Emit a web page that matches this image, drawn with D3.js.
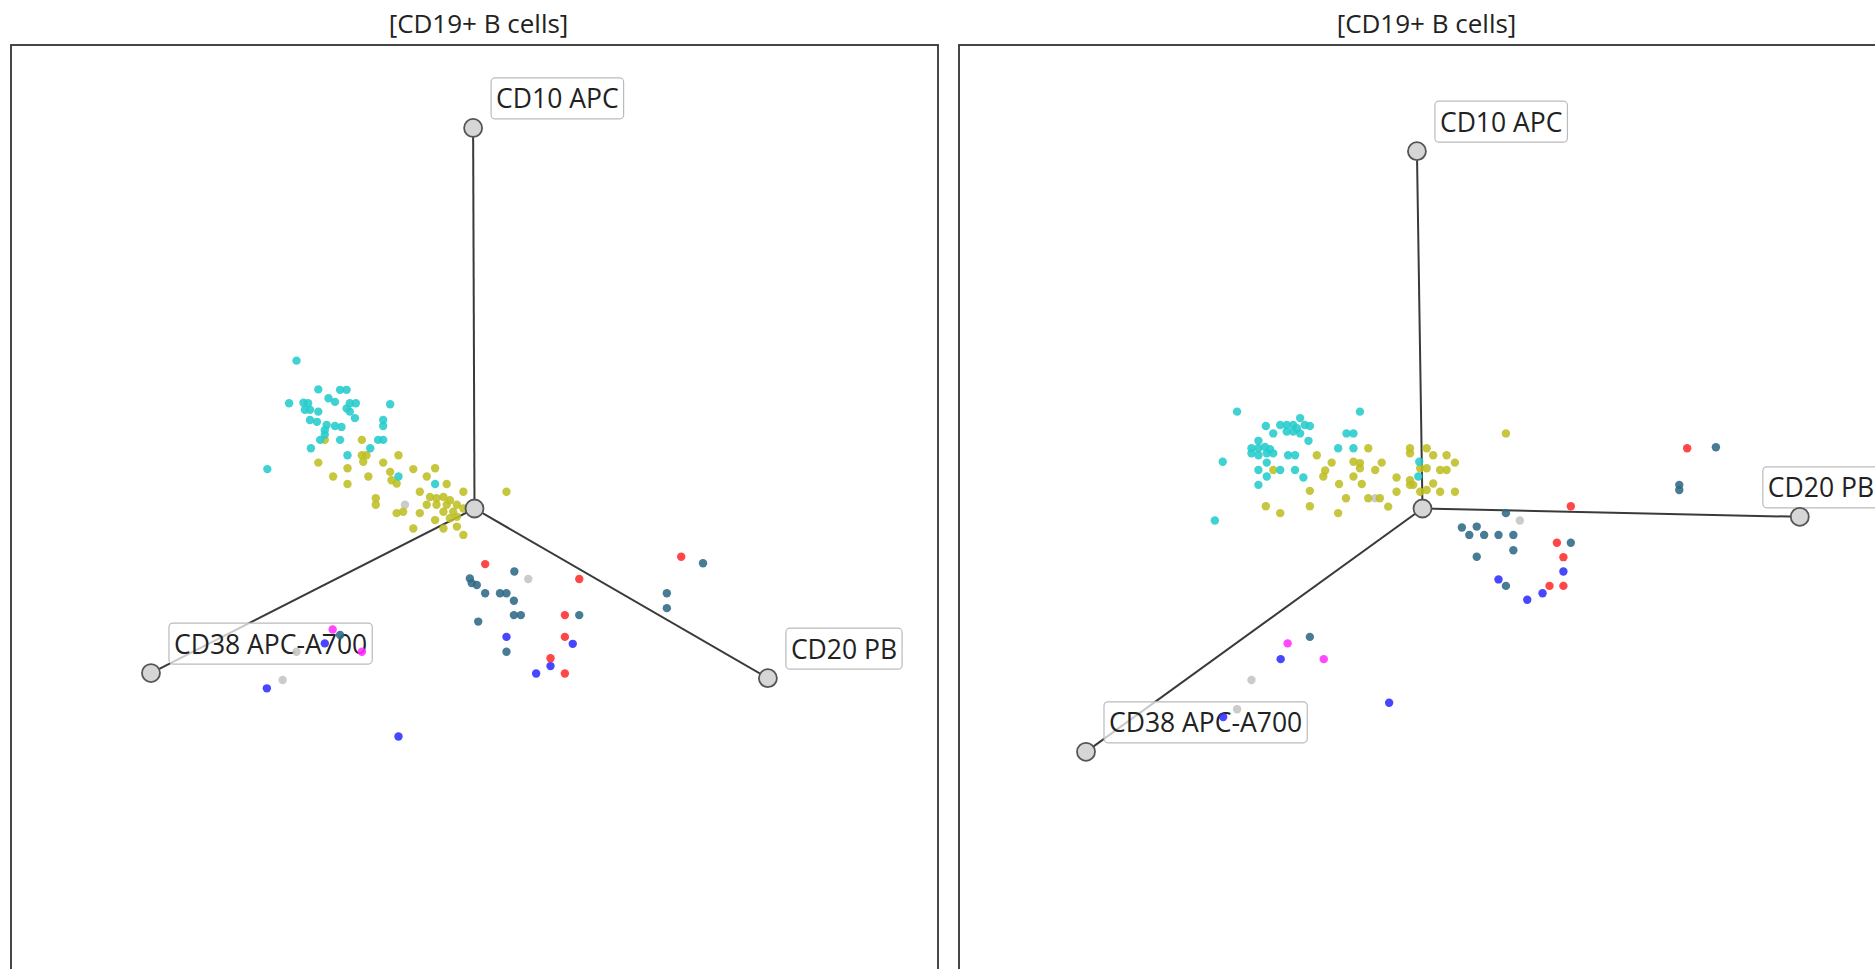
<!DOCTYPE html>
<html>
<head>
<meta charset="utf-8">
<script src="https://cdn.jsdelivr.net/npm/d3@7"></script>
<style>
  html, body { margin: 0; padding: 0; background: #fff; }
  svg { display: block; }
  text { font-family: "Open Sans", "DejaVu Sans", sans-serif; }
</style>
</head>
<body>
<svg id="chart" width="1875" height="969"></svg>
<script>
// Star-coordinate projections of CD19+ B cells onto three marker axes.
// Coordinates are in projection units (-100..100 across each panel).

const panelTitles = ["[CD19+ B cells]", "[CD19+ B cells]"];
const markers = ["CD10 APC", "CD38 APC-A700", "CD20 PB"];

// axis end points per panel, same order as markers
const axesLeft  = [[-0.3, 82.1], [-69.8, -35.5], [63.3, -36.6]];
const axesRight = [[-1.2, 77.1], [-72.6, -52.5], [81.4, -1.8]];

const clusterNames  = ["c1", "c2", "c3", "c4", "c5", "c6", "c7"];
const clusterColors = ["#c4c4c4", "#bebe24", "#26cccc", "#2f6a86", "#ff2e2e", "#2e2eff", "#ff2eff"];

// ---- left panel events ----
const leftC1 = [[-15.0, 0.8], [11.6, -15.2], [-38.4, -30.9], [-41.4, -37.0]];
const leftC2 = [
  [-32.3, 14.8], [-24.3, 14.8], [-24.3, 11.5], [-23.3, 11.5], [-24.0, 10.1], [-16.4, 11.5],
  [-33.7, 9.9], [-19.7, 9.9], [-27.4, 8.7], [-13.2, 8.5], [-8.5, 8.7], [-30.5, 6.9],
  [-22.9, 6.9], [-18.2, 7.9], [-17.9, 6.1], [-16.8, 5.4], [-10.3, 6.9], [-27.4, 5.3],
  [-6.0, 5.3], [-11.8, 3.6], [-2.4, 3.6], [6.9, 3.6], [-21.3, 2.2], [-21.3, 0.8],
  [-9.6, 2.5], [-8.2, 2.2], [-6.7, 2.5], [-5.3, 1.8], [-10.3, 0.8], [-8.2, 0.8],
  [-6.0, 0.8], [-3.8, 0.8], [-16.8, -1.0], [-15.4, -0.7], [-11.8, -1.0], [-6.7, -0.7],
  [-4.6, -0.7], [-2.4, 0.0], [-8.5, -2.5], [-5.3, -2.1], [-3.8, -1.8], [-13.2, -4.3],
  [-6.7, -4.3], [-3.8, -3.9], [-2.4, -5.7]
];
const leftC3 = [
  [-38.4, 31.9], [-33.7, 25.7], [-29.0, 25.6], [-27.6, 25.6], [-31.5, 23.8], [-40.0, 22.7],
  [-36.9, 22.8], [-35.9, 22.7], [-30.1, 23.0], [-26.9, 22.7], [-25.6, 22.7], [-36.6, 21.3],
  [-35.5, 21.3], [-33.7, 20.9], [-27.6, 21.6], [-26.9, 20.9], [-18.2, 22.5], [-35.5, 19.1],
  [-34.0, 18.7], [-31.9, 18.0], [-30.1, 17.8], [-28.7, 17.6], [-25.8, 19.5], [-19.7, 19.1],
  [-19.7, 17.8], [-32.3, 16.9], [-32.3, 15.9], [-33.3, 14.8], [-29.0, 14.8], [-20.8, 14.8],
  [-19.7, 14.8], [-35.3, 13.0], [-22.5, 13.0], [-27.4, 11.5], [-44.7, 8.5], [-16.4, 6.9],
  [-8.5, 5.3]
];
const leftC4 = [
  [8.6, -13.6], [-1.0, -15.1], [-0.6, -16.1], [0.5, -16.5], [2.3, -18.3], [5.5, -18.3],
  [6.9, -18.3], [8.5, -19.9], [8.5, -23.0], [10.0, -23.0], [0.8, -24.4], [22.6, -23.0],
  [6.9, -30.9], [41.5, -18.3], [41.5, -21.5], [49.3, -11.8], [-29.0, -27.3]
];
const leftC5 = [[2.3, -12.0], [22.6, -15.2], [44.6, -10.4], [19.5, -23.0], [19.5, -27.7], [16.4, -32.3], [19.5, -35.6]];
const leftC6 = [[6.9, -27.7], [21.2, -29.2], [16.4, -34.0], [13.3, -35.6], [-32.3, -29.1], [-44.8, -38.8], [-16.4, -49.2]];
const leftC7 = [[-30.6, -26.1], [-24.3, -30.9]];

// ---- right panel events ----
const rightC1 = [[-10.2, 2.2], [21.0, -2.6], [-36.9, -37.0], [-40.0, -43.3]];
const rightC2 = [
  [18.0, 16.2], [-11.7, 13.0], [-2.7, 13.0], [-2.7, 11.9], [0.9, 13.0], [2.3, 11.5],
  [5.2, 11.5], [-22.8, 11.5], [-19.6, 9.9], [-14.9, 10.1], [-13.5, 9.8], [-13.5, 8.7],
  [-8.8, 9.9], [7.0, 9.9], [-21.0, 8.2], [-21.4, 6.9], [-10.2, 8.3], [-32.2, 8.3],
  [-0.5, 8.7], [0.9, 8.7], [3.8, 8.3], [5.2, 8.3], [-14.9, 6.9], [-5.6, 6.7],
  [-2.7, 6.1], [-2.0, 5.1], [-2.7, 5.1], [2.3, 5.4], [-18.0, 5.3], [-13.1, 5.3],
  [-24.3, 3.8], [-5.6, 3.6], [-0.5, 3.6], [0.9, 4.0], [3.8, 3.6], [7.0, 3.6],
  [-16.5, 2.2], [-11.7, 2.2], [-9.2, 2.2], [-7.4, 0.4], [-33.8, 0.5], [-30.7, -1.0],
  [-24.3, 0.5], [-18.2, -1.0]
];
const rightC3 = [
  [-40.0, 20.9], [-13.5, 20.9], [-33.8, 17.8], [-30.7, 18.0], [-29.3, 18.0], [-27.9, 18.0],
  [-26.4, 19.5], [-25.4, 18.0], [-24.3, 17.8], [-32.2, 16.2], [-29.3, 16.6], [-27.9, 16.6],
  [-26.4, 16.2], [-27.1, 17.3], [-24.6, 14.6], [-16.4, 16.2], [-14.9, 16.2], [-35.4, 14.6],
  [-36.9, 13.0], [-35.4, 13.0], [-34.0, 13.3], [-32.9, 12.8], [-36.9, 11.9], [-35.4, 11.5],
  [-33.6, 11.9], [-32.2, 11.9], [-29.0, 11.5], [-27.5, 11.5], [-18.2, 13.0], [-14.9, 13.0],
  [-43.1, 10.1], [-33.6, 9.9], [-35.4, 8.3], [-30.7, 8.3], [-27.5, 8.3], [-33.6, 6.9],
  [-25.7, 6.7], [-35.4, 5.1], [-0.7, 10.1], [-0.9, 6.9], [-44.8, -2.6]
];
const rightC4 = [
  [18.0, -1.0], [8.5, -4.1], [11.7, -3.9], [10.1, -5.7], [13.3, -5.7], [16.4, -5.7],
  [19.6, -5.7], [19.6, -9.0], [11.7, -10.4], [18.0, -16.7], [32.0, -7.4], [63.3, 13.2],
  [55.4, 5.1], [55.4, 4.0], [-24.3, -27.7]
];
const rightC5 = [[32.0, 0.5], [29.0, -7.4], [30.4, -10.5], [27.4, -16.7], [30.4, -16.7], [57.1, 13.0]];
const rightC6 = [[16.4, -15.3], [30.4, -13.6], [25.9, -18.3], [22.6, -19.7], [-30.6, -32.5], [-7.2, -41.9], [-43.0, -45.0]];
const rightC7 = [[-29.1, -29.1], [-21.3, -32.5]];

const panels = [
  { title: panelTitles[0], axes: axesLeft,
    clusters: [leftC1, leftC2, leftC3, leftC4, leftC5, leftC6, leftC7] },
  { title: panelTitles[1], axes: axesRight,
    clusters: [rightC1, rightC2, rightC3, rightC4, rightC5, rightC6, rightC7] }
];

// ---- layout ----
const W = 1875;
const panelSize = 927;
const panelTop = 45;
const panelLefts = [11, 959];

const svg = d3.select("#chart");
const defs = svg.append("defs");

panels.forEach((panel, i) => {
  const left = panelLefts[i];
  const right = left + panelSize;
  const x = d3.scaleLinear().domain([-100, 100]).range([left, right]);
  const y = d3.scaleLinear().domain([-100, 100]).range([panelTop + panelSize, panelTop]);

  const clipId = "clip" + i;
  defs.append("clipPath").attr("id", clipId)
    .append("rect").attr("x", left).attr("y", panelTop)
    .attr("width", panelSize).attr("height", panelSize);

  // title
  svg.append("text")
    .attr("x", (left + right) / 2 + 4)
    .attr("y", 33)
    .attr("text-anchor", "middle")
    .attr("font-size", 26)
    .attr("fill", "#222")
    .text(panel.title);

  const g = svg.append("g").attr("clip-path", `url(#${clipId})`);

  // frame
  svg.append("rect")
    .attr("x", left).attr("y", panelTop)
    .attr("width", panelSize).attr("height", panelSize)
    .attr("fill", "none").attr("stroke", "#333").attr("stroke-width", 1.8);

  const axisData = panel.axes.map((p, k) => ({ name: markers[k], x: p[0], y: p[1] }));

  // axis spokes
  g.selectAll("line.spoke").data(axisData).join("line")
    .attr("class", "spoke")
    .attr("x1", x(0)).attr("y1", y(0))
    .attr("x2", d => x(d.x)).attr("y2", d => y(d.y))
    .attr("stroke", "#3a3a3a").attr("stroke-width", 2);

  // marker labels, kept inside the visible panel area
  const labels = g.selectAll("g.lab").data(axisData).join("g").attr("class", "lab");
  labels.each(function (d) {
    const lg = d3.select(this);
    const box = lg.append("rect");
    const t = lg.append("text")
      .attr("font-size", 26.5)
      .attr("fill", "#222")
      .text(d.name);
    const bb = t.node().getBBox();
    const padX = 5, padY = 2.5;
    const w = bb.width + padX * 2;
    const h = bb.height + padY * 2;
    const limit = Math.min(right - 1, W + padX - 1);
    let bx = x(d.x) + 18;
    if (bx + w > limit) bx = limit - w;
    const by = y(d.y) - 9 - h;
    box.attr("x", bx).attr("y", by).attr("width", w).attr("height", h)
      .attr("rx", 4).attr("ry", 4)
      .attr("fill", "#fff").attr("fill-opacity", 0.72)
      .attr("stroke", "#bbb").attr("stroke-width", 1.2);
    t.attr("x", bx + padX - bb.x).attr("y", by + padY - bb.y);
  });

  // events
  panel.clusters.forEach((pts, c) => {
    g.append("g").attr("class", "cluster-" + clusterNames[c])
      .selectAll("circle").data(pts).join("circle")
      .attr("cx", d => x(d[0])).attr("cy", d => y(d[1]))
      .attr("r", 4.2)
      .attr("fill", clusterColors[c])
      .attr("fill-opacity", 0.88);
  });

  // axis handles
  g.selectAll("circle.handle").data(axisData).join("circle")
    .attr("class", "handle")
    .attr("cx", d => x(d.x)).attr("cy", d => y(d.y))
    .attr("r", 9).attr("fill", "#d6d6d6")
    .attr("stroke", "#555").attr("stroke-width", 1.8);
  g.append("circle")
    .attr("cx", x(0)).attr("cy", y(0))
    .attr("r", 9).attr("fill", "#d6d6d6")
    .attr("stroke", "#555").attr("stroke-width", 1.8);
});
</script>
</body>
</html>
